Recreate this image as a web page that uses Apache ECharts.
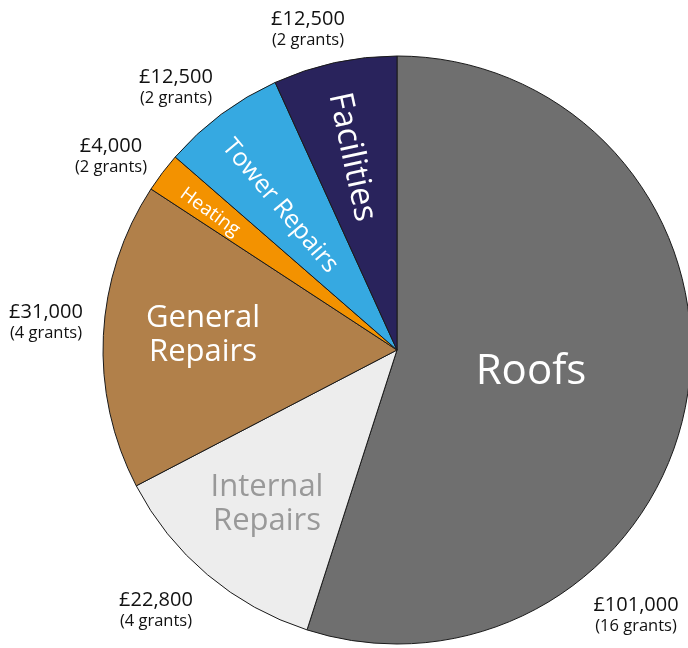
<!DOCTYPE html>
<html>
<head>
<meta charset="utf-8">
<script src="https://cdn.jsdelivr.net/npm/echarts@6/dist/echarts.min.js"></script>
<style>html,body{margin:0;padding:0;background:#fff}#c{width:688px;height:648px}</style>
</head>
<body>
<div id="c"></div>
<script>
// ---- data ----
const categories = ['Roofs', 'Internal Repairs', 'General Repairs', 'Heating', 'Tower Repairs', 'Facilities'];
const sliceLabels = ['Roofs', 'Internal\nRepairs', 'General\nRepairs', 'Heating', 'Tower Repairs', 'Facilities'];
const amounts = [101000, 22800, 31000, 4000, 12500, 12500];
const grants = [16, 4, 4, 2, 2, 2];

// ---- styling (not data) ----
const colors = ['#6f6f6f', '#ededed', '#b1804a', '#f39200', '#36a9e1', '#29235c'];
const textColors = ['#ffffff', '#999999', '#ffffff', '#ffffff', '#ffffff', '#ffffff'];
const fontSizes = [42, 31, 31, 19, 25, 33];
const lineHeights = [44, 34, 34, 20, 26, 34];
const rotations = [0, 0, 0, -36, -50, -78];
const innerPos = [[531, 372], [267, 504], [203, 335], [210, 212], [280, 206], [352, 157]];
const outerPos = [[636, 615], [156, 610], [46, 322], [111, 156], [176, 87], [308, 29]];
const FONT = '"Open Sans", "Noto Sans", sans-serif';

const pieData = categories.map((c, i) => ({
  name: c,
  value: amounts[i],
  itemStyle: { color: colors[i] },
  label: { color: textColors[i], fontSize: fontSizes[i], rotate: rotations[i], lineHeight: lineHeights[i] }
}));
const outerData = categories.map((c, i) => ({ name: c, value: amounts[i] }));

const chart = echarts.init(document.getElementById('c'), null, { renderer: 'canvas' });
chart.setOption({
  backgroundColor: '#ffffff',
  animation: false,
  series: [
    {
      type: 'pie',
      center: [397, 350],
      radius: [0, 294],
      startAngle: 90,
      clockwise: true,
      avoidLabelOverlap: false,
      itemStyle: { borderColor: '#1a1a1a', borderWidth: 1 },
      label: {
        show: true,
        position: 'inside',
        fontFamily: FONT,
        formatter: p => sliceLabels[p.dataIndex]
      },
      labelLine: { show: false },
      labelLayout: p => ({ x: innerPos[p.dataIndex][0], y: innerPos[p.dataIndex][1], align: 'center', verticalAlign: 'middle' }),
      emphasis: { disabled: true },
      data: pieData
    },
    {
      type: 'pie',
      center: [397, 350],
      radius: [0, 294],
      startAngle: 90,
      clockwise: true,
      silent: true,
      avoidLabelOverlap: false,
      itemStyle: { color: 'rgba(0,0,0,0)', borderWidth: 0 },
      label: {
        show: true,
        position: 'outside',
        fontFamily: FONT,
        color: '#111',
        align: 'center',
        formatter: p => '{a|£' + amounts[p.dataIndex].toLocaleString('en-GB') + '}\n{b|(' + grants[p.dataIndex] + ' grants)}',
        rich: {
          a: { fontSize: 20, lineHeight: 23, fontFamily: FONT, color: '#111', align: 'center' },
          b: { fontSize: 16.5, lineHeight: 19, fontFamily: FONT, color: '#111', align: 'center' }
        }
      },
      labelLine: { show: false },
      labelLayout: p => ({ x: outerPos[p.dataIndex][0], y: outerPos[p.dataIndex][1], align: 'center', verticalAlign: 'middle' }),
      emphasis: { disabled: true },
      data: outerData
    }
  ]
});
</script>
</body>
</html>
